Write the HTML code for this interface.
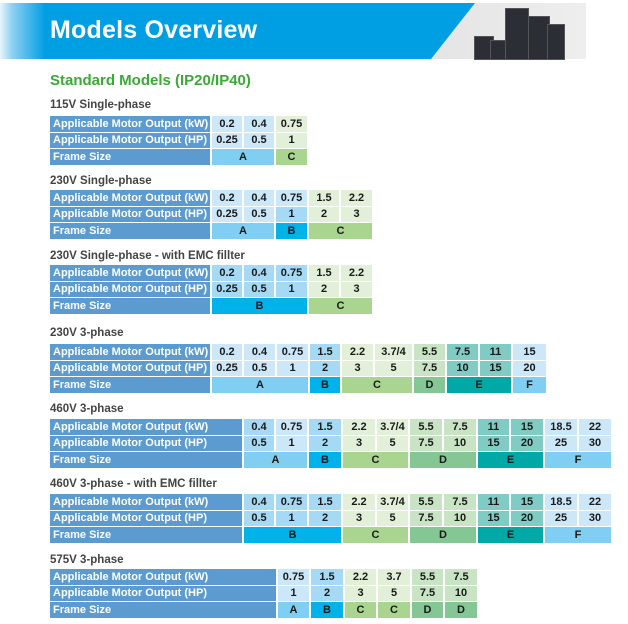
<!DOCTYPE html>
<html><head><meta charset="utf-8">
<style>
body{margin:0;width:628px;height:624px;background:#fff;position:relative;overflow:hidden;font-family:"Liberation Sans",sans-serif}
.hdr{position:absolute;left:0;top:3px;width:586px;height:56px;background:linear-gradient(90deg,#e8f5fc 0,#8fd0f2 12px,#009fe3 45px,#009fe3 100%)}
.grey{position:absolute;left:0;top:3px;width:586px;height:56px;background:linear-gradient(90deg,#999,#d8d8d8 40%,#eee);clip-path:polygon(475px 0,586px 0,586px 56px,431px 56px)}
.dev{position:absolute;background:#2b2f35;border:1px solid #555}
.title{position:absolute;left:50px;top:16px;color:#fff;font-size:25px;font-weight:bold;letter-spacing:0.2px}
.std{position:absolute;left:50px;top:72px;color:#3aa935;font-size:15px;font-weight:bold}
.st{position:absolute;left:50px;font-size:11.5px;color:#444;font-weight:bold}
table{position:absolute;left:48px;border-collapse:separate;border-spacing:2px 1px;table-layout:fixed}
td{height:15.5px;padding:0;font-size:11px;text-align:center;font-weight:bold;color:#1a1a1a;white-space:nowrap;overflow:hidden}
td.l{background:#5b9bd0;color:#fff;text-align:left;padding-left:3px;font-weight:bold}
.a{background:#cbe7f8}.b{background:#a6d9f3}.c{background:#e2efd9}.d{background:#c8e4c4}.e{background:#80cbc3}.f{background:#cbe7f8}
.FA{background:#80cef2}.FB{background:#00b2ea}.FC{background:#aad591}.FD{background:#84c794}.FE{background:#00a8a6}.FF{background:#80cef2}
</style></head><body>
<div class="hdr"></div>
<div class="grey"></div>
<div class="dev" style="left:505px;top:8px;width:22px;height:50px"></div>
<div class="dev" style="left:528px;top:16px;width:20px;height:42px"></div>
<div class="dev" style="left:547px;top:24px;width:16px;height:34px"></div>
<div class="dev" style="left:474px;top:36px;width:18px;height:22px"></div>
<div class="dev" style="left:490px;top:40px;width:14px;height:18px"></div>
<div class="title">Models Overview</div>
<div class="std">Standard Models (IP20/IP40)</div>

<div class="st" style="top:99px">115V Single-phase</div>
<table style="top:115px">
<colgroup><col style="width:160px"><col style="width:30px"><col style="width:30px"><col style="width:31px"></colgroup>
<tr><td class="l">Applicable Motor Output (kW)</td><td class="a">0.2</td><td class="a">0.4</td><td class="c">0.75</td></tr>
<tr><td class="l">Applicable Motor Output (HP)</td><td class="a">0.25</td><td class="a">0.5</td><td class="c">1</td></tr>
<tr><td class="l">Frame Size</td><td class="FA" colspan="2">A</td><td class="FC">C</td></tr>
</table>

<div class="st" style="top:175px">230V Single-phase</div>
<table style="top:189px">
<colgroup><col style="width:160px"><col style="width:30px"><col style="width:30px"><col style="width:31px"><col style="width:30px"><col style="width:31px"></colgroup>
<tr><td class="l">Applicable Motor Output (kW)</td><td class="a">0.2</td><td class="a">0.4</td><td class="a">0.75</td><td class="c">1.5</td><td class="c">2.2</td></tr>
<tr><td class="l">Applicable Motor Output (HP)</td><td class="a">0.25</td><td class="a">0.5</td><td class="b">1</td><td class="c">2</td><td class="c">3</td></tr>
<tr><td class="l">Frame Size</td><td class="FA" colspan="2">A</td><td class="FB">B</td><td class="FC" colspan="2">C</td></tr>
</table>

<div class="st" style="top:250px">230V Single-phase - with EMC fillter</div>
<table style="top:264px">
<colgroup><col style="width:160px"><col style="width:30px"><col style="width:30px"><col style="width:31px"><col style="width:30px"><col style="width:31px"></colgroup>
<tr><td class="l">Applicable Motor Output (kW)</td><td class="b">0.2</td><td class="b">0.4</td><td class="b">0.75</td><td class="c">1.5</td><td class="c">2.2</td></tr>
<tr><td class="l">Applicable Motor Output (HP)</td><td class="b">0.25</td><td class="b">0.5</td><td class="b">1</td><td class="c">2</td><td class="c">3</td></tr>
<tr><td class="l">Frame Size</td><td class="FB" colspan="3">B</td><td class="FC" colspan="2">C</td></tr>
</table>

<div class="st" style="top:327px">230V 3-phase</div>
<table style="top:343px">
<colgroup><col style="width:160px"><col style="width:30px"><col style="width:31px"><col style="width:31px"><col style="width:30px"><col style="width:31px"><col style="width:37px"><col style="width:31px"><col style="width:31px"><col style="width:31px"><col style="width:33px"></colgroup>
<tr><td class="l">Applicable Motor Output (kW)</td><td class="a">0.2</td><td class="a">0.4</td><td class="a">0.75</td><td class="b">1.5</td><td class="c">2.2</td><td class="c">3.7/4</td><td class="d">5.5</td><td class="e">7.5</td><td class="e">11</td><td class="f">15</td></tr>
<tr><td class="l">Applicable Motor Output (HP)</td><td class="a">0.25</td><td class="a">0.5</td><td class="a">1</td><td class="b">2</td><td class="c">3</td><td class="c">5</td><td class="d">7.5</td><td class="e">10</td><td class="e">15</td><td class="f">20</td></tr>
<tr><td class="l">Frame Size</td><td class="FA" colspan="3">A</td><td class="FB">B</td><td class="FC" colspan="2">C</td><td class="FD">D</td><td class="FE" colspan="2">E</td><td class="FF">F</td></tr>
</table>

<div class="st" style="top:403px">460V 3-phase</div>
<table style="top:418px">
<colgroup><col style="width:192px"><col style="width:30px"><col style="width:31px"><col style="width:32px"><col style="width:32px"><col style="width:31px"><col style="width:32px"><col style="width:32px"><col style="width:31px"><col style="width:32px"><col style="width:32px"><col style="width:32px"></colgroup>
<tr><td class="l">Applicable Motor Output (kW)</td><td class="b">0.4</td><td class="a">0.75</td><td class="b">1.5</td><td class="c">2.2</td><td class="c">3.7/4</td><td class="d">5.5</td><td class="d">7.5</td><td class="e">11</td><td class="e">15</td><td class="f">18.5</td><td class="f">22</td></tr>
<tr><td class="l">Applicable Motor Output (HP)</td><td class="b">0.5</td><td class="a">1</td><td class="b">2</td><td class="c">3</td><td class="c">5</td><td class="d">7.5</td><td class="d">10</td><td class="e">15</td><td class="e">20</td><td class="f">25</td><td class="f">30</td></tr>
<tr><td class="l">Frame Size</td><td class="FA" colspan="2">A</td><td class="FB">B</td><td class="FC" colspan="2">C</td><td class="FD" colspan="2">D</td><td class="FE" colspan="2">E</td><td class="FF" colspan="2">F</td></tr>
</table>

<div class="st" style="top:478px">460V 3-phase - with EMC fillter</div>
<table style="top:493px">
<colgroup><col style="width:192px"><col style="width:30px"><col style="width:31px"><col style="width:32px"><col style="width:32px"><col style="width:31px"><col style="width:32px"><col style="width:32px"><col style="width:31px"><col style="width:32px"><col style="width:32px"><col style="width:32px"></colgroup>
<tr><td class="l">Applicable Motor Output (kW)</td><td class="b">0.4</td><td class="b">0.75</td><td class="b">1.5</td><td class="c">2.2</td><td class="c">3.7/4</td><td class="d">5.5</td><td class="d">7.5</td><td class="e">11</td><td class="e">15</td><td class="f">18.5</td><td class="f">22</td></tr>
<tr><td class="l">Applicable Motor Output (HP)</td><td class="b">0.5</td><td class="b">1</td><td class="b">2</td><td class="c">3</td><td class="c">5</td><td class="d">7.5</td><td class="d">10</td><td class="e">15</td><td class="e">20</td><td class="f">25</td><td class="f">30</td></tr>
<tr><td class="l">Frame Size</td><td class="FB" colspan="3">B</td><td class="FC" colspan="2">C</td><td class="FD" colspan="2">D</td><td class="FE" colspan="2">E</td><td class="FF" colspan="2">F</td></tr>
</table>

<div class="st" style="top:554px">575V 3-phase</div>
<table style="top:568px">
<colgroup><col style="width:226px"><col style="width:31px"><col style="width:32px"><col style="width:31px"><col style="width:32px"><col style="width:31px"><col style="width:32px"></colgroup>
<tr><td class="l">Applicable Motor Output (kW)</td><td class="a">0.75</td><td class="b">1.5</td><td class="c">2.2</td><td class="c">3.7</td><td class="d">5.5</td><td class="d">7.5</td></tr>
<tr><td class="l">Applicable Motor Output (HP)</td><td class="a">1</td><td class="b">2</td><td class="c">3</td><td class="c">5</td><td class="d">7.5</td><td class="d">10</td></tr>
<tr><td class="l">Frame Size</td><td class="FA">A</td><td class="FB">B</td><td class="FC">C</td><td class="FC">C</td><td class="FD">D</td><td class="FD">D</td></tr>
</table>
</body></html>
